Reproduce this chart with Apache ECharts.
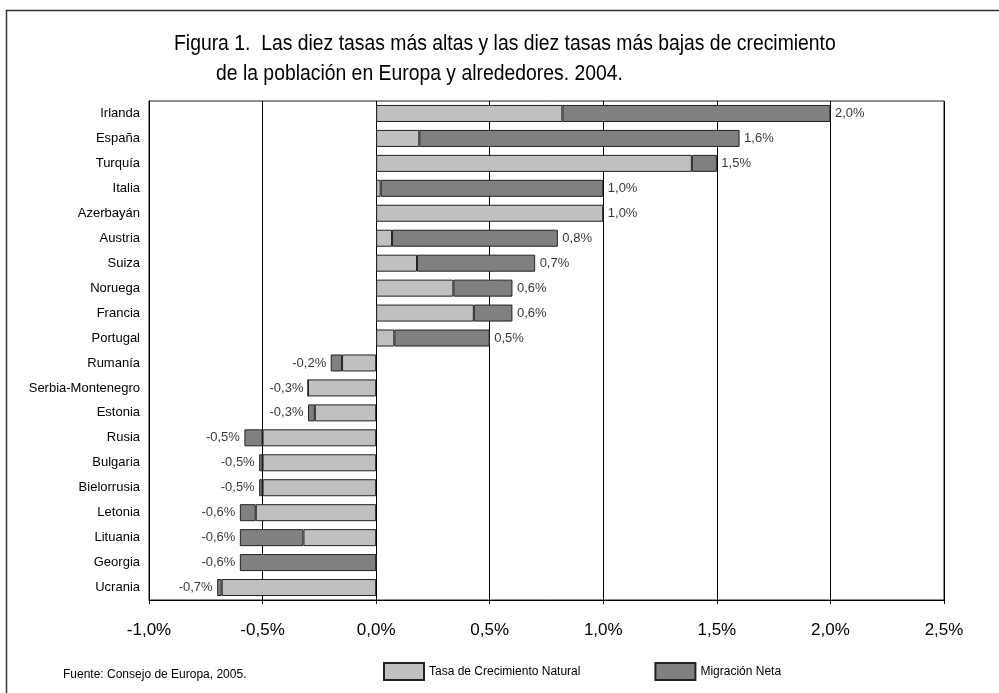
<!DOCTYPE html>
<html><head><meta charset="utf-8">
<script src="https://cdn.jsdelivr.net/npm/echarts@6/dist/echarts.min.js"></script>
<style>html,body{margin:0;padding:0;background:#fff}#c{width:999px;height:693px}</style>
</head><body><div id="c"></div>
<script>
var categories = ['Irlanda','España','Turquía','Italia','Azerbayán','Austria','Suiza','Noruega','Francia','Portugal','Rumanía','Serbia-Montenegro','Estonia','Rusia','Bulgaria','Bielorrusia','Letonia','Lituania','Georgia','Ucrania'];
var naturalRate = [0.82, 0.19, 1.39, 0.02, 1.00, 0.07, 0.18, 0.34, 0.43, 0.08, -0.15, -0.30, -0.27, -0.50, -0.50, -0.50, -0.53, -0.32, 0, -0.68];
var netMigration = [1.18, 1.41, 0.11, 0.98, 0, 0.73, 0.52, 0.26, 0.17, 0.42, -0.05, 0, -0.03, -0.08, -0.015, -0.015, -0.07, -0.28, -0.60, -0.02];
var totalLabels = ['2,0%','1,6%','1,5%','1,0%','1,0%','0,8%','0,7%','0,6%','0,6%','0,5%','-0,2%','-0,3%','-0,3%','-0,5%','-0,5%','-0,5%','-0,6%','-0,6%','-0,6%','-0,7%'];
var xTicks = {min: -1, max: 2.5, step: 0.5};

var FONT = '"Liberation Sans", Arial, sans-serif';
var chart = echarts.init(document.getElementById('c'));
var totals = categories.map(function(c, i){ return naturalRate[i] + netMigration[i]; });
var labelPts = categories.map(function(c, i){
  return {value: [totals[i], c], label: {position: totals[i] >= 0 ? 'right' : 'left'}};
});
chart.setOption({
  animation: false,
  textStyle: {fontFamily: FONT, color: '#000'},
  graphic: [
    {type: 'rect', shape: {x: 6.5, y: 10.5, width: 1000, height: 700}, style: {fill: 'none', stroke: '#333', lineWidth: 1.5}},
    {type: 'text', x: 174, y: 33, scaleX: 0.88, style: {text: 'Figura 1.  Las diez tasas más altas y las diez tasas más bajas de crecimiento', font: '22px ' + FONT, fill: '#000'}},
    {type: 'text', x: 216, y: 63, scaleX: 0.88, style: {text: 'de la población en Europa y alrededores. 2004.', font: '22px ' + FONT, fill: '#000'}},
    {type: 'text', x: 63, y: 669, style: {text: 'Fuente: Consejo de Europa, 2005.', font: '12px ' + FONT, fill: '#000'}}
  ],
  grid: {left: 149, top: 101, right: 55, bottom: 93, show: true, borderColor: '#222', borderWidth: 1, containLabel: false},
  legend: {
    left: 378, top: 657, itemWidth: 40, itemHeight: 17, itemGap: 74, icon: 'rect',
    textStyle: {fontSize: 12, fontFamily: FONT, color: '#000'},
    data: ['Tasa de Crecimiento Natural', 'Migración Neta']
  },
  xAxis: {
    type: 'value', min: xTicks.min, max: xTicks.max, interval: xTicks.step,
    axisLine: {show: true, lineStyle: {color: '#000', width: 1}},
    axisTick: {show: true, length: 4, lineStyle: {color: '#000'}},
    splitLine: {show: true, lineStyle: {color: '#000', width: 1}},
    axisLabel: {fontSize: 17, margin: 22, color: '#000', fontFamily: FONT,
      formatter: function(v){ return v.toFixed(1).replace('.', ',') + '%'; }}
  },
  yAxis: {
    type: 'category', data: categories, inverse: true,
    axisLine: {show: true, onZero: false, lineStyle: {color: '#000'}},
    axisTick: {show: false},
    axisLabel: {fontSize: 13, margin: 9, color: '#000', fontFamily: FONT}
  },
  series: [
    {name: 'Tasa de Crecimiento Natural', type: 'bar', stack: 't', data: naturalRate, barWidth: 17,
      itemStyle: {color: '#c0c0c0', borderColor: '#222', borderWidth: 1}},
    {name: 'Migración Neta', type: 'bar', stack: 't', data: netMigration, barWidth: 17,
      itemStyle: {color: '#808080', borderColor: '#222', borderWidth: 1}},
    {name: 'labels', type: 'scatter', data: labelPts, symbolSize: 1, itemStyle: {color: 'rgba(0,0,0,0)'},
      silent: true, z: 5,
      label: {show: true, distance: 4, fontSize: 13, color: '#000', fontFamily: FONT,
        formatter: function(p){ return totalLabels[p.dataIndex]; }}}
  ]
});
</script></body></html>
